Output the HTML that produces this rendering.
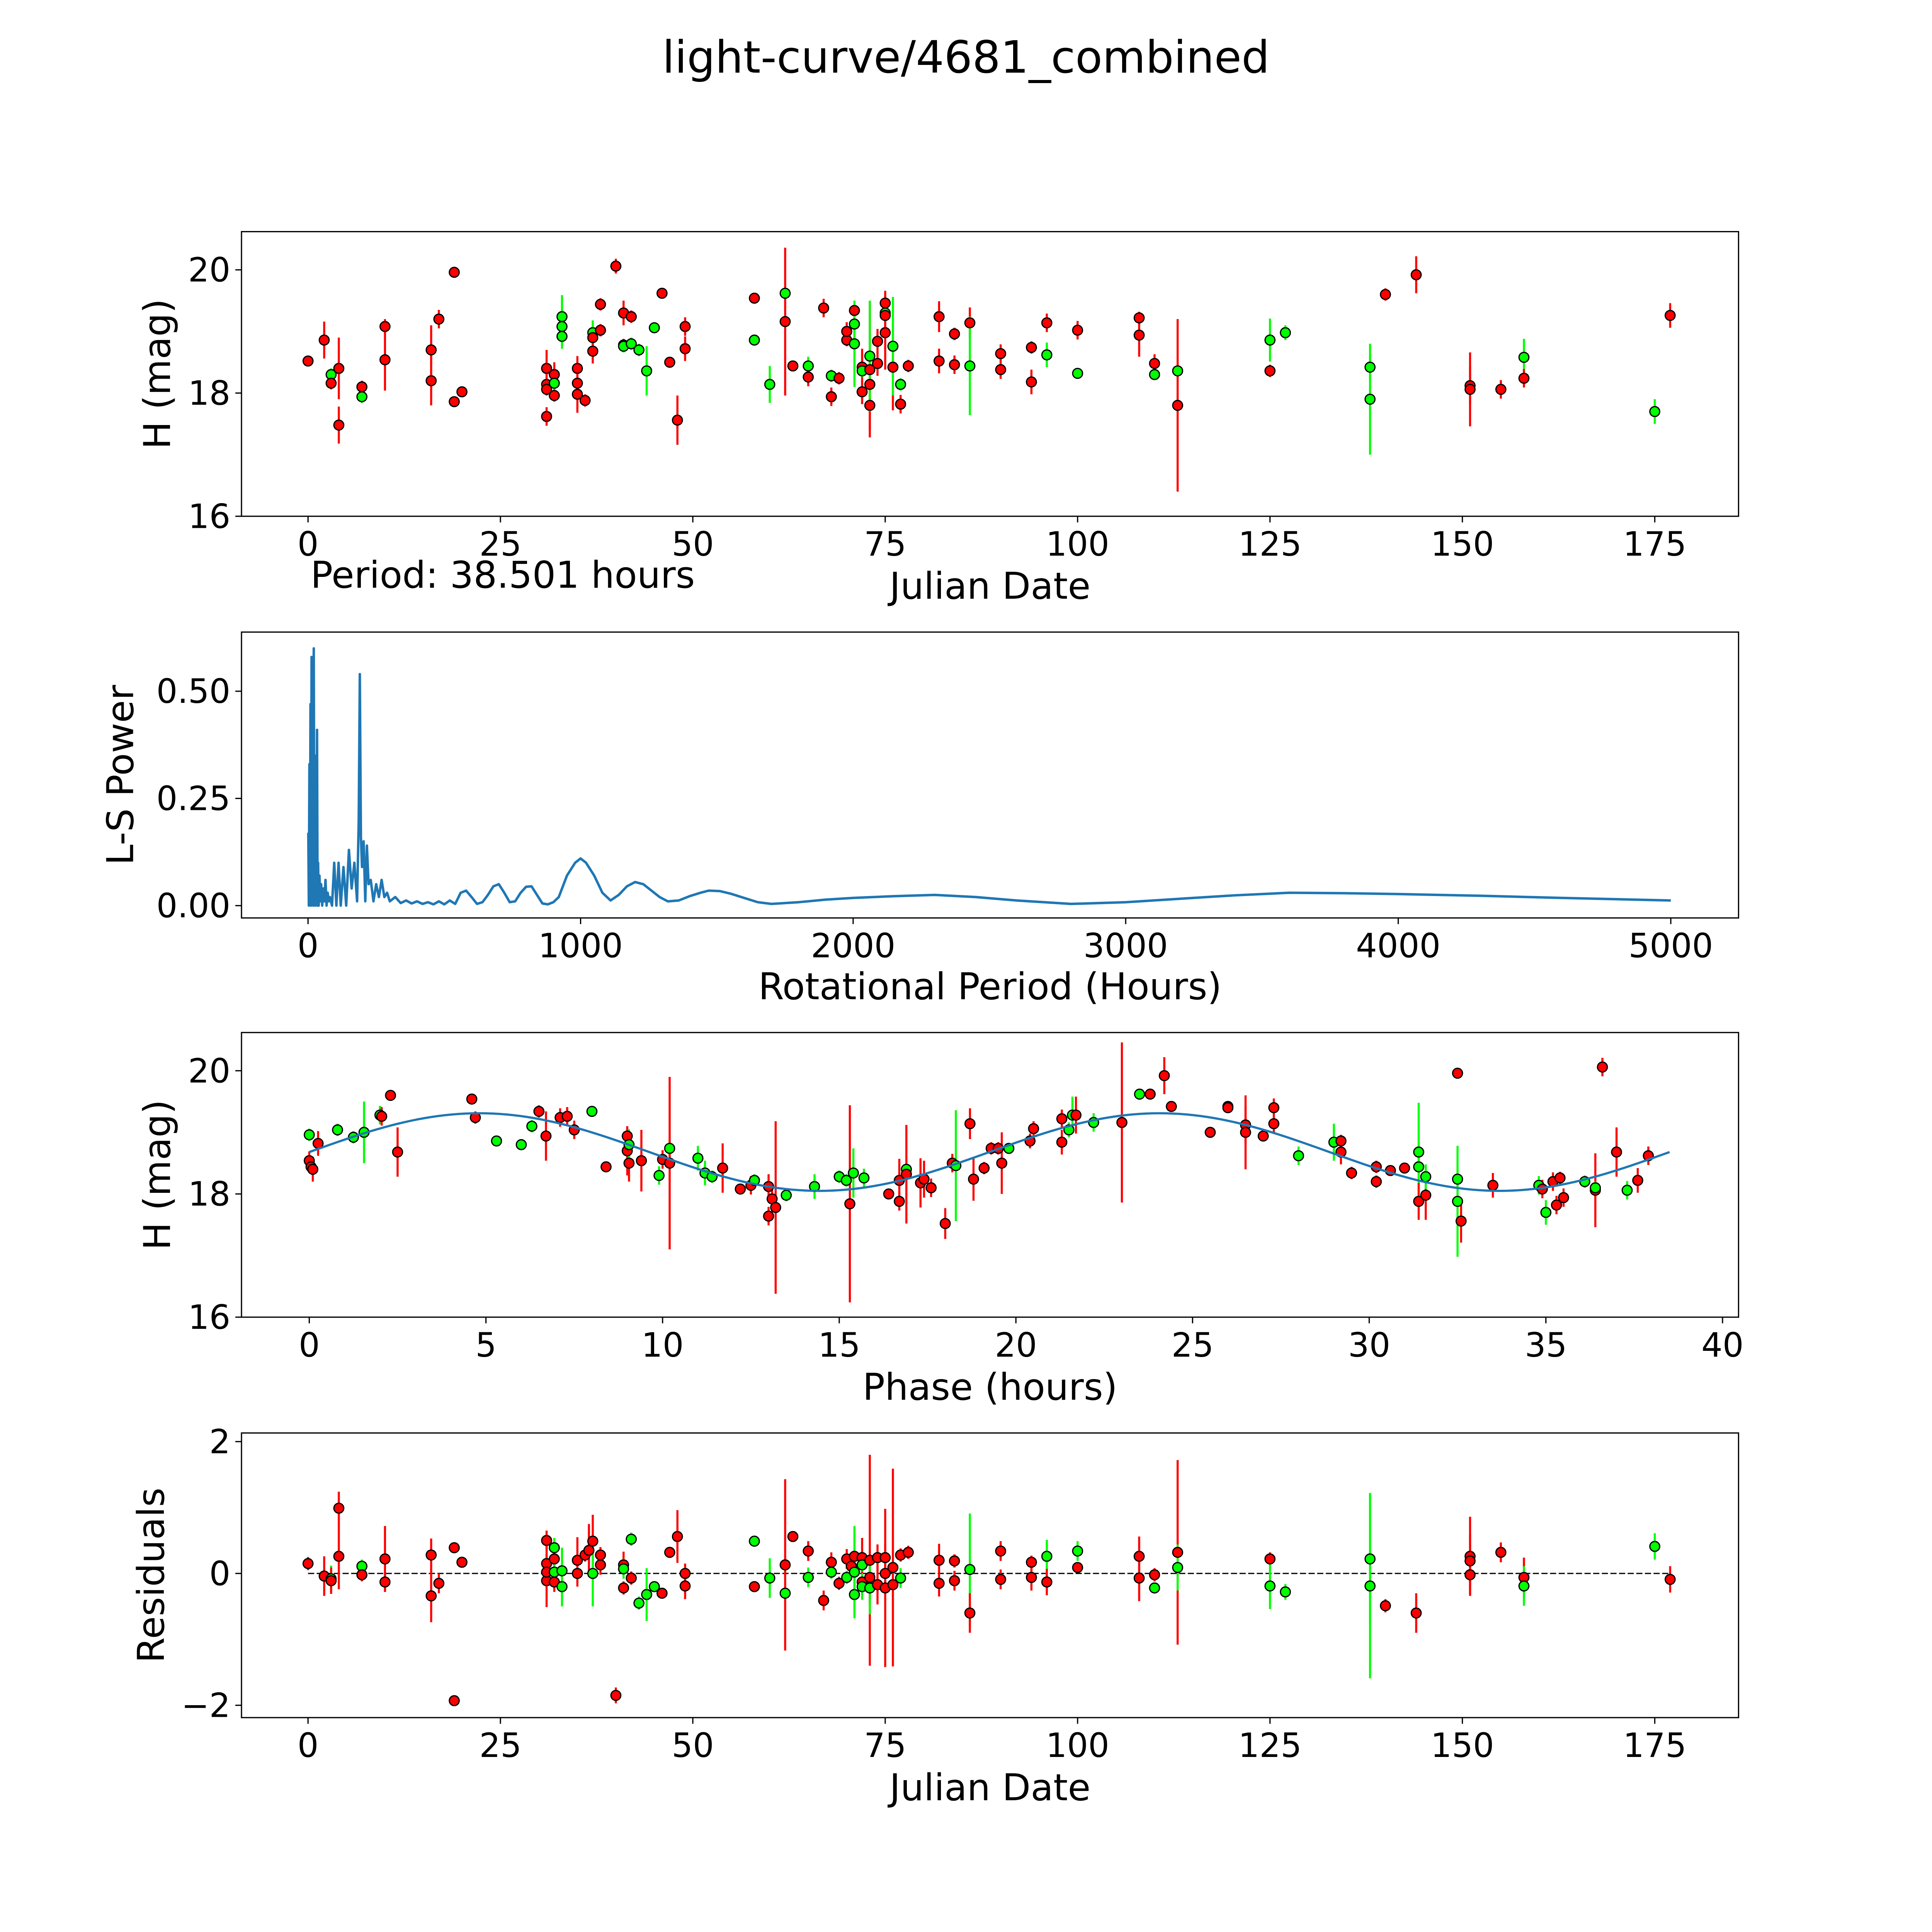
<!DOCTYPE html>
<html><head><meta charset="utf-8"><style>
html,body{margin:0;padding:0;background:#fff;overflow:hidden;width:100%;height:100%}
svg{display:block;width:100vw;height:100vh}
text{font-family:"DejaVu Sans","Liberation Sans",sans-serif;fill:#000}
</style></head><body>
<svg id="fig" xmlns="http://www.w3.org/2000/svg" viewBox="0 0 1568 1568" preserveAspectRatio="none">
<rect width="1568" height="1568" fill="#fff"/>
<text x="784" y="59" font-size="36" text-anchor="middle">light-curve/4681_combined</text>
<g id="g1"></g>
<g id="g2"></g>
<g id="g3"></g>
<g id="g4"></g>
</svg>
<script>
// panel 1: observations (day, H mag, error, filter colour)
const days = [0,2.1,3,3,4,4,7,7,10,10,16,16,17,19,19,20,31,31,31,31,32,32,32,33,33,33,35,35,35,36,37,37,37,38,38,40,41,41,41,42,42,43,44,45,46,47,48,49,49,58,58,60,62,62,63,65,65,67,68,68,69,70,70,71,71,71,72,72,72,73,73,73,73,74,74,75,75,75,75,76,76,77,77,78,82,82,84,84,86,86,90,90,94,94,96,96,100,100,108,108,110,110,113,113,125,125,127,138,138,140,144,151,151,155,158,158,175,177];
const mags = [18.52,18.86,18.3,18.16,18.4,17.48,18.1,17.94,19.08,18.54,18.7,18.2,19.2,19.96,17.86,18.02,18.4,18.14,18.06,17.62,18.3,18.16,17.96,19.24,19.08,18.92,18.4,18.16,17.98,17.88,18.98,18.68,18.9,19.02,19.44,20.06,19.3,18.78,18.76,19.24,18.8,18.7,18.36,19.06,19.62,18.5,17.56,19.08,18.72,19.54,18.86,18.14,19.62,19.16,18.44,18.44,18.26,19.38,18.28,17.94,18.24,18.86,19.0,19.12,19.34,18.8,18.42,18.02,18.36,18.38,18.14,17.8,18.6,18.48,18.84,19.3,19.46,19.26,18.98,18.42,18.76,18.14,17.82,18.44,19.24,18.52,18.96,18.46,19.14,18.44,18.64,18.38,18.74,18.18,19.14,18.62,19.02,18.32,19.22,18.94,18.48,18.3,18.36,17.8,18.86,18.36,18.98,18.42,17.9,19.6,19.92,18.12,18.06,18.06,18.58,18.24,17.7,19.26];
const errs = [0.08,0.3,0.1,0.1,0.5,0.3,0.1,0.1,0.12,0.5,0.4,0.4,0.15,0.06,0.08,0.08,0.3,0.1,0.1,0.15,0.2,0.1,0.1,0.35,0.2,0.2,0.2,0.2,0.3,0.1,0.2,0.2,0.15,0.1,0.1,0.12,0.2,0.1,0.1,0.1,0.1,0.1,0.4,0.08,0.06,0.08,0.4,0.15,0.2,0.06,0.08,0.3,0.1,1.2,0.06,0.15,0.15,0.15,0.1,0.15,0.1,0.1,0.15,0.3,0.1,0.7,0.3,0.2,0.1,1.1,0.4,0.4,0.9,0.2,0.2,0.3,0.2,0.2,0.6,0.7,0.8,0.1,0.15,0.1,0.25,0.2,0.1,0.15,0.25,0.8,0.15,0.15,0.1,0.2,0.15,0.2,0.15,0.08,0.1,0.35,0.15,0.08,0.08,1.4,0.35,0.1,0.12,0.2,0.9,0.1,0.3,0.3,0.6,0.15,0.3,0.15,0.2,0.2];
const cols = ["r","r","g","r","r","r","r","g","r","r","r","r","r","r","r","r","r","r","r","r","r","g","r","g","g","g","r","r","r","r","g","r","r","r","r","r","r","r","g","r","g","g","g","g","r","r","r","r","r","r","g","g","g","r","r","g","r","r","g","r","r","r","r","g","r","g","r","r","g","r","r","r","g","r","r","g","r","r","r","r","g","g","r","r","r","r","r","r","r","g","r","r","r","r","r","g","r","g","r","r","r","g","g","r","g","r","g","g","g","r","r","r","r","r","g","r","g","r"];
// panel 2: periodogram (period hours, L-S power)
const periods = [1,3,5,7,9,11,13,15,17,19,21,23,25,27,29,31,33,35,37,39,42,45,48,52,56,60,64,68,72,76,80,88,96,104,112,120,130,140,150,160,170,180,186,190,194,198,204,210,216,222,230,240,250,260,270,280,290,300,320,340,360,380,400,420,440,460,480,500,520,540,560,580,600,620,640,660,680,700,720,740,760,780,800,820,840,860,880,900,920,950,980,1000,1020,1050,1080,1110,1140,1170,1200,1230,1260,1290,1320,1360,1400,1440,1470,1510,1550,1600,1650,1700,1800,1900,2000,2150,2300,2450,2600,2800,3000,3200,3400,3600,3800,4000,4300,4600,5000];
const power = [0.17,0.0,0.33,0.02,0.47,0.0,0.58,0.05,0.22,0.0,0.6,0.06,0.35,0.0,0.28,0.02,0.41,0.0,0.1,0.0,0.07,0.01,0.05,0.0,0.04,0.01,0.06,0.0,0.03,0.01,0.02,0.0,0.1,0.0,0.1,0.0,0.09,0.0,0.13,0.04,0.1,0.01,0.2,0.54,0.16,0.09,0.15,0.01,0.14,0.05,0.06,0.01,0.05,0.02,0.06,0.02,0.03,0.01,0.02,0.006,0.012,0.005,0.01,0.004,0.008,0.003,0.01,0.003,0.012,0.004,0.03,0.035,0.02,0.004,0.008,0.025,0.045,0.05,0.03,0.008,0.01,0.03,0.044,0.045,0.025,0.005,0.003,0.008,0.02,0.07,0.1,0.11,0.1,0.07,0.03,0.012,0.025,0.045,0.055,0.05,0.035,0.02,0.01,0.012,0.022,0.03,0.035,0.034,0.028,0.018,0.008,0.004,0.008,0.014,0.018,0.022,0.025,0.02,0.012,0.004,0.008,0.016,0.024,0.03,0.029,0.027,0.023,0.018,0.012];
// panel 3: phase-folded points (phase hours, mag, error, colour)
const phaseX = [0,0,0.05,0.1,0.25,0.8,1.25,1.55,2.0,2.05,2.3,2.5,4.6,4.7,5.3,6.0,6.3,6.5,6.7,7.1,7.3,7.5,8.0,8.4,9.0,9.0,9.05,9.05,9.4,9.9,10.0,10.2,10.2,11.0,11.2,11.4,11.7,12.2,12.5,12.6,13.0,13.0,13.1,13.2,13.5,14.3,15.0,15.2,15.3,15.4,15.7,16.4,16.7,16.7,16.9,16.9,17.3,17.4,17.6,18.0,18.2,18.3,18.7,18.8,19.1,19.3,19.5,19.6,19.8,20.4,20.5,21.3,21.3,21.5,21.6,21.7,22.2,23.0,23.5,23.8,24.2,24.4,25.5,26.0,26.0,26.5,26.5,27.0,27.3,27.3,28.0,29.0,29.2,29.2,29.5,30.2,30.2,30.6,31.0,31.4,31.4,31.4,31.6,31.6,32.5,32.5,32.5,32.6,33.5,34.8,34.9,35.0,35.2,35.3,35.4,35.5,36.1,36.4,36.4,36.6,37.0,37.3,37.6,37.9];
const phaseMag = [18.96,18.54,18.44,18.4,18.82,19.04,18.92,19.0,19.28,19.26,19.6,18.68,19.54,19.24,18.86,18.8,19.1,19.34,18.94,19.24,19.26,19.04,19.34,18.44,18.94,18.7,18.5,18.8,18.54,18.3,18.56,18.74,18.5,18.58,18.34,18.28,18.42,18.08,18.14,18.22,18.12,17.64,17.92,17.78,17.98,18.12,18.28,18.22,17.84,18.34,18.26,18.0,17.88,18.22,18.4,18.32,18.18,18.24,18.1,17.52,18.5,18.46,19.14,18.24,18.42,18.74,18.74,18.5,18.74,18.86,19.06,18.84,19.22,19.04,19.28,19.28,19.16,19.16,19.62,19.62,19.92,19.42,19.0,19.42,19.4,19.12,19.0,18.94,19.4,19.14,18.62,18.84,18.86,18.68,18.34,18.44,18.2,18.38,18.42,18.68,18.44,17.88,17.98,18.28,19.96,18.24,17.88,17.56,18.14,18.14,18.08,17.7,18.2,17.82,18.26,17.94,18.2,18.06,18.1,20.06,18.68,18.06,18.22,18.62];
const phaseErr = [0.1,0.15,0.1,0.2,0.2,0.1,0.1,0.5,0.15,0.15,0.08,0.4,0.06,0.1,0.06,0.06,0.1,0.1,0.4,0.15,0.15,0.15,0.06,0.06,0.15,0.4,0.3,0.25,0.5,0.15,0.15,0.15,1.4,0.2,0.2,0.1,0.4,0.08,0.15,0.1,0.2,0.15,0.2,1.4,0.1,0.2,0.1,0.1,1.6,0.4,0.15,0.08,0.15,0.35,0.2,0.8,0.4,0.3,0.15,0.25,0.15,0.9,0.25,0.35,0.1,0.1,0.1,0.5,0.08,0.12,0.12,0.2,0.15,0.12,0.3,0.3,0.15,1.3,0.06,0.06,0.3,0.06,0.06,0.06,0.06,0.3,0.6,0.08,0.15,0.15,0.15,0.3,0.1,0.2,0.1,0.1,0.1,0.08,0.08,0.8,0.3,0.3,0.4,0.2,0.08,0.2,0.9,0.35,0.2,0.15,0.15,0.2,0.15,0.15,0.1,0.15,0.1,0.6,0.1,0.15,0.4,0.15,0.2,0.15];
const phaseCol = ["g","r","r","r","r","g","g","g","g","r","r","r","r","r","g","g","g","r","r","r","r","r","g","r","r","r","r","g","r","g","r","g","r","g","g","g","r","r","r","g","r","r","r","r","g","g","g","g","r","g","g","r","r","r","g","r","r","r","r","r","r","g","r","r","r","r","r","r","g","r","r","r","r","g","g","r","g","r","g","r","r","r","r","g","r","r","r","r","r","r","g","g","r","r","r","r","r","r","r","g","g","r","r","g","r","g","g","r","r","g","r","g","r","r","r","r","g","r","g","r","r","g","r","r"];
// panel 4: residuals (day, residual, error, colour)
const resDay = [0,2.1,3,3,4,4,7,7,10,10,16,16,17,19,19,20,31,31,31,31,32,32,32,32,33,33,35,35,36,36.5,37,37,38,38,40,41,41,41,42,42,43,44,45,46,47,48,49,49,58,58,60,62,62,63,65,65,67,68,68,69,70,70,70.6,71,71,71,72,72,72,72,73,73,73,74,74,75,75,75,76,76,77,77,78,82,82,84,84,86,86,90,90,94,94,96,96,100,100,108,108,110,110,113,113,125,125,127,138,138,140,144,151,151,151,155,158,158,175,177];
const resVal = [0.15,-0.04,-0.08,-0.11,0.26,0.99,0.11,-0.02,0.22,-0.13,0.28,-0.34,-0.15,0.39,-1.93,0.17,0.5,0.15,-0.11,0.02,0.39,0.22,0.02,-0.13,0.04,-0.2,0.2,0,0.28,0.35,0.49,0,0.28,0.13,-1.85,0.13,0.07,-0.22,0.52,-0.07,-0.45,-0.32,-0.2,-0.3,0.32,0.56,0,-0.19,0.49,-0.2,-0.07,-0.3,0.13,0.56,0.34,-0.06,-0.41,0.02,0.17,-0.15,0.22,-0.06,0.11,0.26,-0.32,0.02,0.24,-0.13,-0.2,0.13,0.2,-0.06,-0.22,0.24,-0.17,0,-0.22,0.24,0.09,-0.17,0.28,-0.07,0.32,0.2,-0.15,0.19,-0.11,0.06,-0.6,0.34,-0.09,0.17,-0.06,0.26,-0.13,0.34,0.09,0.26,-0.07,-0.02,-0.22,0.32,0.09,0.22,-0.19,-0.28,0.22,-0.19,-0.49,-0.6,0.26,0.19,-0.02,0.32,-0.06,-0.19,0.41,-0.09];
const resErr = [0.1,0.3,0.2,0.2,0.5,0.25,0.1,0.1,0.5,0.15,0.25,0.4,0.15,0.08,0.08,0.08,0.15,0.3,0.4,0.1,0.15,0.2,0.2,0.15,0.35,0.3,0.35,0.2,0.1,0.4,0.4,0.5,0.12,0.15,0.12,0.2,0.15,0.1,0.1,0.1,0.1,0.4,0.08,0.06,0.08,0.4,0.15,0.2,0.06,0.08,0.3,0.1,1.3,0.06,0.15,0.15,0.15,0.1,0.15,0.1,0.15,0.1,0.15,0.1,0.3,0.7,0.3,0.2,0.2,0.1,1.6,0.4,0.4,0.2,0.3,0.3,1.2,0.2,1.5,0.7,0.1,0.15,0.1,0.25,0.2,0.1,0.15,0.85,0.3,0.15,0.15,0.1,0.2,0.25,0.2,0.15,0.08,0.3,0.35,0.1,0.08,1.4,0.35,0.1,0.35,0.12,1.0,1.4,0.1,0.3,0.6,0.4,0.3,0.15,0.3,0.3,0.2,0.2];
const resCol = ["r","r","g","r","r","r","g","r","r","r","r","r","r","r","r","r","r","r","r","r","g","r","g","r","g","g","r","r","r","r","r","g","r","r","r","r","g","r","g","r","g","g","g","r","r","r","r","r","g","r","g","g","r","r","r","g","r","g","r","r","r","g","r","r","g","g","r","r","g","g","r","r","g","r","r","r","r","r","r","r","r","g","r","r","r","r","r","g","r","r","r","r","r","g","r","g","r","r","r","r","g","r","g","r","g","g","g","g","r","r","r","r","r","r","r","g","g","r"];
const period = 38.501;
const fitMean = 18.68, fitAmp = 0.63;

const NS="http://www.w3.org/2000/svg";
function mk(parent,tag,attrs){const e=document.createElementNS(NS,tag);for(const k in attrs)e.setAttribute(k,attrs[k]);parent.appendChild(e);return e;}
function lin(d0,d1,r0,r1){return v=>r0+(v-d0)*(r1-r0)/(d1-d0);}
const colorMap={r:"#ff0000",g:"#00ff00"};
function model(ph){return fitMean+fitAmp*Math.sin(2*Math.PI*ph/(period/2));}

function axes(g,L,T,R,B,xs,ys,xt,yt,xlab,ylab,xlabY,ylabX){
  const f=mk(g,'rect',{x:L,y:T,width:R-L,height:B-T,fill:'none',stroke:'#000','stroke-width':1});
  
  
  xt.forEach(t=>{const x=xs(t);mk(g,'line',{x1:x,x2:x,y1:B,y2:B+5,stroke:'#000','stroke-width':1});
    const tx=mk(g,'text',{x:x,y:B+32,'font-size':27,'text-anchor':'middle'});tx.textContent=t;
    
    });
  yt.forEach(t=>{const y=ys(t.v);mk(g,'line',{x1:L-5,x2:L,y1:y,y2:y,stroke:'#000','stroke-width':1});
    const tx=mk(g,'text',{x:L-9,y:y+9.5,'font-size':27,'text-anchor':'end'});tx.textContent=t.s;
    
    });
  const xl=mk(g,'text',{x:(L+R)/2,y:xlabY,'font-size':30,'text-anchor':'middle'});xl.textContent=xlab;
  
  
  const yc=(T+B)/2;
  const yl=mk(g,'text',{x:ylabX,y:yc,'font-size':30,'text-anchor':'middle',transform:`rotate(-90 ${ylabX} ${yc})`});yl.textContent=ylab;
  
  
}
function pts(g,xs,ys,X,Y,E,C){
  for(let i=0;i<X.length;i++){
    const x=xs(X[i]),c=colorMap[C[i]];
    const eb=mk(g,'line',{x1:x,x2:x,y1:ys(Y[i]-E[i]),y2:ys(Y[i]+E[i]),stroke:c,'stroke-width':1.7});
    
    
  }
  for(let i=0;i<X.length;i++){
    const c=mk(g,'circle',{cx:xs(X[i]),cy:ys(Y[i]),r:4,fill:colorMap[C[i]],stroke:'#000','stroke-width':1});
    
    
  }
}
const dayTicks=[0,25,50,75,100,125,150,175];
const magTicks=[{v:16,s:'16'},{v:18,s:'18'},{v:20,s:'20'}];
{const g=document.getElementById('g1');
 const xs=lin(0,175,250,1343), ys=lin(16,20,419,219);
 axes(g,196,188,1411,419,xs,ys,dayTicks,magTicks,'Julian Date','H (mag)',486,138);
 pts(g,xs,ys,days,mags,errs,cols);
 const p=mk(g,'text',{x:252,y:477,'font-size':30});p.textContent='Period: 38.501 hours';
 
 }
{const g=document.getElementById('g2');
 const xs=lin(0,5000,250,1356), ys=lin(0,0.5,735,561);
 axes(g,196,513,1411,745,xs,ys,[0,1000,2000,3000,4000,5000],[{v:0,s:'0.00'},{v:0.25,s:'0.25'},{v:0.5,s:'0.50'}],'Rotational Period (Hours)','L-S Power',811,108);
 const d=periods.map((p,i)=>(i?'L':'M')+xs(p).toFixed(2)+' '+ys(power[i]).toFixed(2)).join(' ');
 const l=mk(g,'path',{d:d,fill:'none',stroke:'#1f77b4','stroke-width':2,'stroke-linejoin':'round'});
 
 }
{const g=document.getElementById('g3');
 const xs=lin(0,40,251,1398), ys=lin(16,20,1069,869);
 axes(g,196,838,1411,1069,xs,ys,[0,5,10,15,20,25,30,35,40],magTicks,'Phase (hours)','H (mag)',1136,138);
 pts(g,xs,ys,phaseX,phaseMag,phaseErr,phaseCol);
 let d='';for(let k=0;k<=200;k++){const ph=period*k/200;d+=(k?'L':'M')+xs(ph).toFixed(2)+' '+ys(model(ph)).toFixed(2);}
 const l=mk(g,'path',{d:d,fill:'none',stroke:'#1f77b4','stroke-width':1.8});
 
 }
{const g=document.getElementById('g4');
 const xs=lin(0,175,250,1343), ys=lin(0,2,1277,1170);
 axes(g,196,1163,1411,1394,xs,ys,dayTicks,[{v:-2,s:'\u22122'},{v:0,s:'0'},{v:2,s:'2'}],'Julian Date','Residuals',1461,133);
 const z=mk(g,'line',{x1:xs(0),x2:xs(177),y1:ys(0),y2:ys(0),stroke:'#000','stroke-width':1,'stroke-dasharray':'5 2'});
 
 
 pts(g,xs,ys,resDay,resVal,resErr,resCol);}
</script>
</body></html>
